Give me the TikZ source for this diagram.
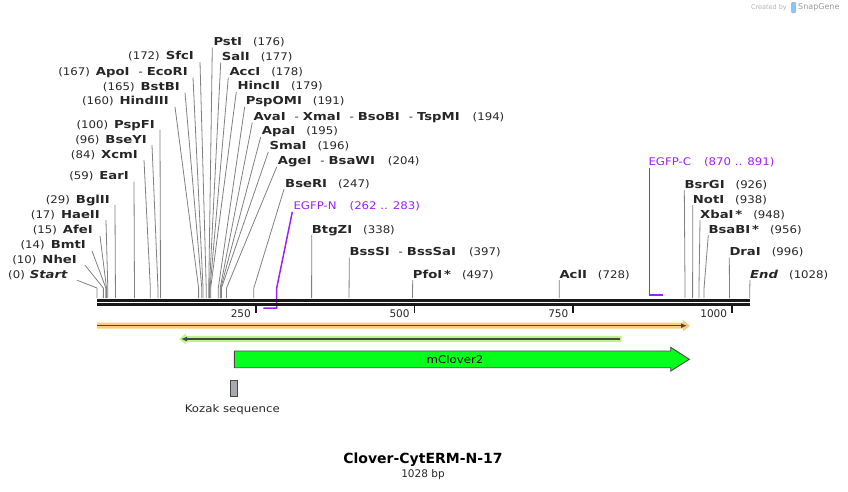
\documentclass[tikz,border=0pt]{standalone}
\usepackage{fontspec}
\setmainfont{DejaVu Sans}
\newfontfamily\mapfont{DejaVu Sans}[FakeStretch=1.12,
  BoldFeatures={FakeStretch=1.2}, BoldItalicFeatures={FakeStretch=1.2}]
\usepackage{tikz}
\usetikzlibrary{arrows.meta}

\definecolor{primer}{RGB}{160,32,240}
\definecolor{cutline}{RGB}{128,128,128}
\definecolor{featline}{RGB}{70,70,70}
\definecolor{orangeband}{RGB}{253,203,125}
\definecolor{greenband}{RGB}{190,242,140}
\definecolor{clover}{RGB}{5,255,26}
\definecolor{kozak}{RGB}{166,170,176}
\definecolor{logoblue}{RGB}{140,196,240}

\tikzset{
  site/.style={inner sep=0pt, text height=8pt, text depth=2pt,
    font=\mapfont\fontsize{10.5}{12}\selectfont, text=black!85},
  lsite/.style={site, anchor=east},
  rsite/.style={site, anchor=west},
  cut/.style={draw=cutline, line width=0.8pt},
  primerline/.style={draw=primer, line width=1.5pt},
  feat/.style={draw=featline, line width=0.9pt},
}
\newcommand{\enz}[1]{\textbf{\fontsize{11}{12}\selectfont #1}}
\newcommand{\dsh}{\hspace{9pt}-\hspace{4pt}}

\begin{document}
\begin{tikzpicture}[x=1pt, y=-1pt]
    	\useasboundingbox (0,0) rectangle (848,491);
    	
    	% sites on the sequence
    	\foreach \p in {0,10,14,15,17,29,59,84,96,100,160,165,167,172,176,177,178,179,191,194,195,196,204,247,283,338,397,497,728,926,938,948,956,996,1028}
    	  \coordinate (c\p) at ({97+0.635*\p},288);
    	\coordinate (n1) at ({97+0.635*262},308);
    	\coordinate (n2) at ({97+0.635*283},308);
    	\coordinate (k1) at ({97+0.635*870},295);
    	\coordinate (k2) at ({97+0.635*891},295);
    	
    	% labels, left group
    	\node[lsite] (sfc)   at (194,56.7)  {(172)\hspace{6pt}\enz{SfcI}};
    	\node[lsite] (apo)   at (188,72.3)  {(167)\hspace{6pt}\enz{ApoI}\dsh\enz{EcoRI}};
    	\node[lsite] (bstb)  at (180,87.3)  {(165)\hspace{6pt}\enz{BstBI}};
    	\node[lsite] (hind)  at (169,101.7) {(160)\hspace{6pt}\enz{HindIII}};
    	\node[lsite] (pspf)  at (155,125)   {(100)\hspace{6pt}\enz{PspFI}};
    	\node[lsite] (bsey)  at (147,140)   {(96)\hspace{6pt}\enz{BseYI}};
    	\node[lsite] (xcm)   at (138,155)   {(84)\hspace{6pt}\enz{XcmI}};
    	\node[lsite] (ear)   at (129,176.5) {(59)\hspace{6pt}\enz{EarI}};
    	\node[lsite] (bgl)   at (110,200)   {(29)\hspace{6pt}\enz{BglII}};
    	\node[lsite] (hae)   at (100,215)   {(17)\hspace{6pt}\enz{HaeII}};
    	\node[lsite] (afe)   at (93,230.7)  {(15)\hspace{6pt}\enz{AfeI}};
    	\node[lsite] (bmt)   at (86,245.7)  {(14)\hspace{6pt}\enz{BmtI}};
    	\node[lsite] (nhe)   at (77,260)    {(10)\hspace{6pt}\enz{NheI}};
    	\node[lsite] (start) at (68,275)    {(0)\hspace{5pt}\enz{\itshape Start}};
    	
    	% labels, right group
    	\node[rsite] (pst)   at (213.3,42.3)  {\enz{PstI}\hspace{11pt}(176)};
    	\node[rsite] (sal)   at (221.7,57.3)  {\enz{SalI}\hspace{11pt}(177)};
    	\node[rsite] (acc)   at (229.3,72.3)  {\enz{AccI}\hspace{11pt}(178)};
    	\node[rsite] (hinc)  at (237.3,86.7)  {\enz{HincII}\hspace{11pt}(179)};
    	\node[rsite] (pspo)  at (245.7,101.7) {\enz{PspOMI}\hspace{11pt}(191)};
    	\node[rsite] (ava)   at (253.3,117.3) {\enz{AvaI}\dsh\enz{XmaI}\dsh\enz{BsoBI}\dsh\enz{TspMI}\hspace{13pt}(194)};
    	\node[rsite] (apa)   at (261.7,131.7) {\enz{ApaI}\hspace{11pt}(195)};
    	\node[rsite] (sma)   at (269.3,146.7) {\enz{SmaI}\hspace{11pt}(196)};
    	\node[rsite] (age)   at (277.7,161.7) {\enz{AgeI}\dsh\enz{BsaWI}\hspace{13pt}(204)};
    	\node[rsite] (bser)  at (285,184)     {\enz{BseRI}\hspace{11pt}(247)};
    	\node[rsite, text=primer] (egfpn) at (293.3,206.7) {EGFP-N\hspace{13pt}(262 .. 283)};
    	\node[rsite] (btgz)  at (311.7,230)   {\enz{BtgZI}\hspace{11pt}(338)};
    	\node[rsite] (bsss)  at (349.3,252.3) {\enz{BssSI}\dsh\enz{BssSaI}\hspace{13pt}(397)};
    	\node[rsite] (pfo)   at (412.7,275)   {\enz{PfoI\,*}\hspace{11pt}(497)};
    	\node[rsite] (acl)   at (559.3,275)   {\enz{AclI}\hspace{11pt}(728)};
    	\node[rsite, text=primer] (egfpc) at (648.3,162.3) {EGFP-C\hspace{13pt}(870 .. 891)};
    	\node[rsite] (bsrg)  at (684.3,185)   {\enz{BsrGI}\hspace{11pt}(926)};
    	\node[rsite] (not)   at (692.7,200)   {\enz{NotI}\hspace{11pt}(938)};
    	\node[rsite] (xba)   at (700,215)     {\enz{XbaI\,*}\hspace{11pt}(948)};
    	\node[rsite] (bsab)  at (708.3,230)   {\enz{BsaBI\,*}\hspace{11pt}(956)};
    	\node[rsite] (dra)   at (729.3,252.3) {\enz{DraI}\hspace{11pt}(996)};
    	\node[rsite] (end)   at (750,275)     {\enz{\itshape End}\hspace{11pt}(1028)};
    	
    	% cut lines, left group
    	\draw[cut] ([xshift=6pt]sfc.south east)   -- (c172) -- ++(0,10);
    	\draw[cut] ([xshift=5pt]apo.south east)   -- (c167) -- ++(0,10);
    	\draw[cut] ([xshift=5pt]bstb.south east)  -- (c165) -- ++(0,10);
    	\draw[cut] ([xshift=6pt]hind.south east)  -- (c160) -- ++(0,10);
    	\draw[cut] ([xshift=5pt]pspf.south east)  -- (c100) -- ++(0,10);
    	\draw[cut] ([xshift=5pt]bsey.south east)  -- (c96) -- ++(0,10);
    	\draw[cut] ([xshift=6pt]xcm.south east)   -- (c84) -- ++(0,10);
    	\draw[cut] ([xshift=5pt]ear.south east)   -- (c59) -- ++(0,10);
    	\draw[cut] ([xshift=5pt]bgl.south east)   -- (c29) -- ++(0,10);
    	\draw[cut] ([xshift=6pt]hae.south east)   -- (c17) -- ++(0,10);
    	\draw[cut] ([xshift=7pt]afe.south east)   -- (c15) -- ++(0,10);
    	\draw[cut] ([xshift=6pt]bmt.south east)   -- (c14) -- ++(0,10);
    	\draw[cut] ([xshift=8pt]nhe.south east)   -- (c10) -- ++(0,10);
    	\draw[cut] ([xshift=9pt]start.south east) -- (c0) -- ++(0,10);
    	
    	% cut lines, right group
    	\draw[cut] ([xshift=-1pt]pst.south west)  -- (c176) -- ++(0,10);
    	\draw[cut] ([xshift=-1pt]sal.south west)  -- (c177) -- ++(0,10);
    	\draw[cut] ([xshift=-1pt]acc.south west)  -- (c178) -- ++(0,10);
    	\draw[cut] ([xshift=-1pt]hinc.south west) -- (c179) -- ++(0,10);
    	\draw[cut] ([xshift=-1pt]pspo.south west) -- (c191) -- ++(0,10);
    	\draw[cut] ([xshift=-1pt]ava.south west)  -- (c194) -- ++(0,10);
    	\draw[cut] ([xshift=-1pt]apa.south west)  -- (c195) -- ++(0,10);
    	\draw[cut] ([xshift=-1pt]sma.south west)  -- (c196) -- ++(0,10);
    	\draw[cut] ([xshift=-1pt]age.south west)  -- (c204) -- ++(0,10);
    	\draw[cut] ([xshift=-1pt]bser.south west) -- (c247) -- ++(0,10);
    	\draw[cut] (btgz.south west) -- (c338) -- ++(0,10);
    	\draw[cut] (bsss.south west) -- (c397) -- ++(0,10);
    	\draw[cut] (pfo.south west)  -- (c497) -- ++(0,10);
    	\draw[cut] (acl.south west)  -- (c728) -- ++(0,10);
    	\draw[cut] (bsrg.south west) -- (c926) -- ++(0,10);
    	\draw[cut] (not.south west)  -- (c938) -- ++(0,10);
    	\draw[cut] (xba.south west)  -- (c948) -- ++(0,10);
    	\draw[cut] (bsab.south west) -- (c956) -- ++(0,10);
    	\draw[cut] (dra.south west)  -- (c996) -- ++(0,10);
    	\draw[cut] (end.south west)  -- (c1028) -- ++(0,10);
    	
    	% primers
    	\draw[primerline] ([xshift=-1pt]egfpn.south west) -- (c283) -- (n2) -- (n1);
    	\draw[primerline] (egfpc.south west -| k1) -- (k1) -- (k2);
    	
    	% sequence
    	\draw[line width=2.7pt, black!90] (97,300.3) -- (750.3,300.3);
    	\draw[line width=2.7pt, black!90] (97,304.3) -- (750.3,304.3);
    	\foreach \t/\l in {250/250,500/500,750/750,1000/1000}
    	  \draw[line width=1.8pt, black!90] ({97+0.635*\t},305) -- ++(0,8)
    	    node[inner sep=0pt, font=\fontsize{10.5}{12}\selectfont, text=black!85,
    	      anchor=east, xshift=-4pt, yshift=-1pt] {\l};
    	
    	% features
    	\fill[orangeband] (97,322.7) -- (683,322.7) -- (683,320) -- (690,325.7)
    	  -- (683,331.4) -- (683,328.7) -- (97,328.7) -- cycle;
    	\draw[featline, line width=1.5pt, -{Latex[length=6pt,width=5pt]}] (97,325.7) -- (687,325.7);
    	\fill[greenband] (621.7,336) -- (186,336) -- (186,333.5) -- (179,339)
    	  -- (186,344.5) -- (186,342) -- (621.7,342) -- cycle;
    	\draw[featline, line width=1.5pt, -{Latex[length=6pt,width=5pt]}] (620,339) -- (181,339);
    	\draw[feat, fill=clover] (234.3,351) -- (670.7,351) -- (670.7,347.3) -- (689.3,359.3)
    	  -- (670.7,371) -- (670.7,367.7) -- (234.3,367.7) -- cycle;
    	\node[font=\mapfont\fontsize{10.5}{12}\selectfont] (clv) at (455,359.3) {mClover2};
    	\draw[feat, fill=kozak] (230,380) rectangle (237.7,396.7);
    	\node[font=\mapfont\fontsize{10.5}{12}\selectfont, text=black!85] (koz) at (232.3,409.3) {Kozak sequence};
    	
    	% title
    	\node[font=\bfseries\fontsize{14}{16}\selectfont] (title) at (423,460) {Clover-CytERM-N-17};
    	\node[font=\fontsize{10.5}{12}\selectfont, text=black!85] (len) at (423,474.5) {1028 bp};
    	
    	% credit
    	\node[anchor=east, inner sep=0pt, text=black!30, font=\fontsize{6.5}{7}\selectfont] (made) at (787,7.5) {Created by};
    	\fill[logoblue, rounded corners=1pt] (791,2) rectangle (796,13);
    	\node[anchor=west, inner sep=0pt, text=black!40, font=\fontsize{8}{9}\selectfont] (sg) at (798,7.5) {SnapGene};
    	
\end{tikzpicture}
\end{document}
